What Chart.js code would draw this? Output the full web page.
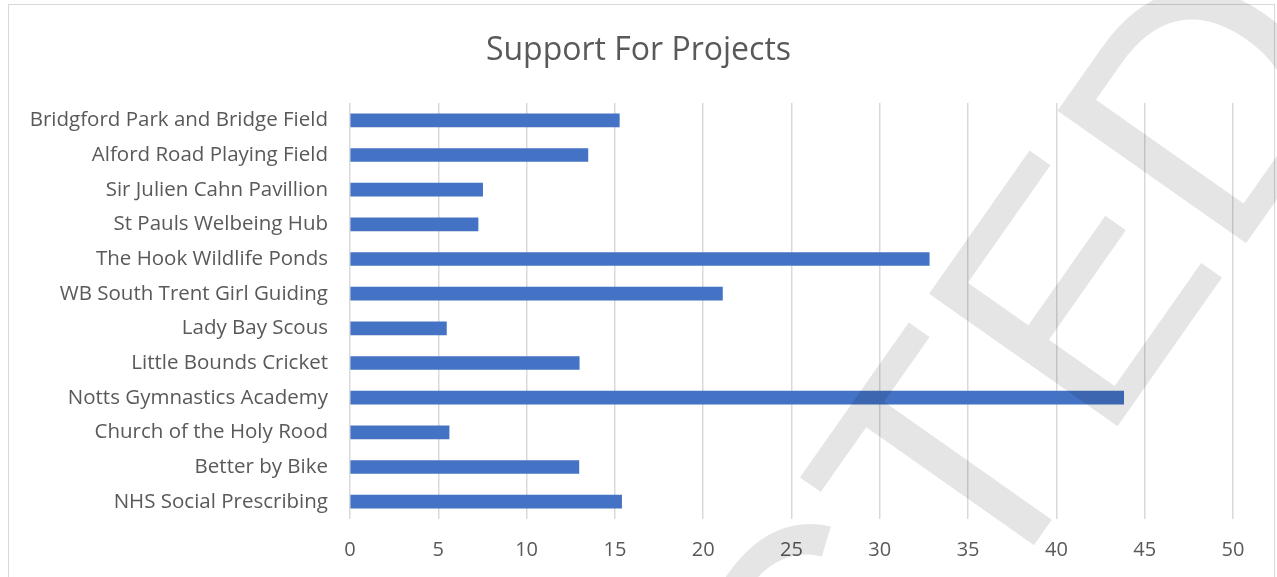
<!DOCTYPE html>
<html>
<head>
<meta charset="utf-8">
<script src="https://cdn.jsdelivr.net/npm/chart.js@4.4.0/dist/chart.umd.min.js"></script>
<style>
    body { margin: 0; background: #fff; overflow: hidden; }
    #wrap { width: 1277px; height: 577px; position: relative; }
</style>
</head>
<body>
<div id="wrap"><canvas id="supportChart"></canvas></div>
<script>
// chart data
const projects = [
    "Bridgford Park and Bridge Field",
    "Alford Road Playing Field",
    "Sir Julien Cahn Pavillion",
    "St Pauls Welbeing Hub",
    "The Hook Wildlife Ponds",
    "WB South Trent Girl Guiding",
    "Lady Bay Scous",
    "Little Bounds Cricket",
    "Notts Gymnastics Academy",
    "Church of the Holy Rood",
    "Better by Bike",
    "NHS Social Prescribing"
];
const support = [15.25, 13.47, 7.51, 7.25, 32.8, 21.09, 5.46, 12.98, 43.81, 5.61, 12.96, 15.38];
const xTickValues = [0, 5, 10, 15, 20, 25, 30, 35, 40, 45, 50];

const labelColor = "#595959";
const fontName = "Open Sans";

// light border round the chart, like the office chart frame
const frame = {
    id: "frame",
    beforeDraw(chart) {
        const c = chart.ctx;
        c.save();
        c.fillStyle = "#fff";
        c.fillRect(0, 0, chart.width, chart.height);
        c.strokeStyle = "#d9d9d9";
        c.lineWidth = 1;
        c.strokeRect(8.5, 4.5, 1266, 620);
        c.restore();
    }
};

// big grey diagonal stamp over the chart
const watermark = {
    id: "watermark",
    afterDraw(chart) {
        const c = chart.ctx;
        c.save();
        c.translate(845, 814);
        c.rotate(-54.9 * Math.PI / 180);
        c.font = '335px "Liberation Sans"';
        c.fillStyle = "rgba(0, 0, 0, 0.1)";
        c.fillText("CTED", 0, 0);
        c.restore();
    }
};

document.addEventListener("DOMContentLoaded", function () {
    let ctx = document.getElementById("supportChart").getContext("2d");

    new Chart(ctx, {
        type: "bar",
        data: {
            labels: projects,
            datasets: [
                {
                    label: "Support",
                    data: support,
                    backgroundColor: "#4472c4",
                    barThickness: 13
                }
            ]
        },
        plugins: [frame, watermark],
        options: {
            indexAxis: "y",
            responsive: true,
            maintainAspectRatio: false,
            animation: false,
            layout: {
                padding: { top: 10, left: 8, right: 8, bottom: 0 }
            },
            plugins: {
                legend: { display: false },
                tooltip: { enabled: false },
                title: {
                    display: true,
                    text: "Support For Projects",
                    color: labelColor,
                    font: { family: fontName, size: 32, weight: "normal" },
                    padding: { top: 21.4, bottom: 33.2 }
                }
            },
            scales: {
                x: {
                    min: 0,
                    max: 50,
                    afterBuildTicks: function (scale) {
                        scale.ticks = xTickValues.map(v => ({ value: v }));
                    },
                    afterFit: function (scale) {
                        scale.height = 58;
                    },
                    grid: { color: "#d9d9d9", lineWidth: 1.5, drawTicks: false },
                    border: { display: false },
                    ticks: {
                        color: labelColor,
                        font: { family: fontName, size: 20 },
                        padding: 19
                    }
                },
                y: {
                    grid: { display: false, drawTicks: false },
                    border: { display: false },
                    afterFit: function (scale) {
                        scale.width = 342;
                    },
                    ticks: {
                        color: labelColor,
                        font: { family: fontName, size: 20.5 },
                        padding: 22
                    }
                },
                // empty axis on the right, only keeps the plot clear of the frame
                spacer: {
                    type: "linear",
                    position: "right",
                    grid: { display: false },
                    border: { display: false },
                    ticks: { display: false },
                    afterFit: function (scale) {
                        scale.width = 36;
                    }
                }
            }
        }
    });
});
</script>
</body>
</html>
